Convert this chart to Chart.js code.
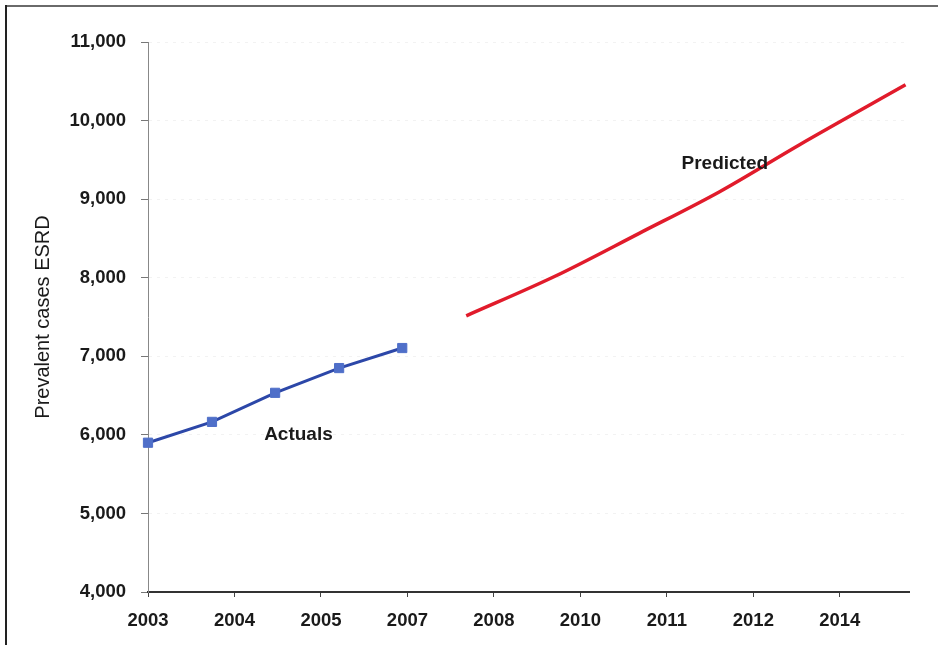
<!DOCTYPE html>
<html>
<head>
<meta charset="utf-8">
<script src="https://cdn.jsdelivr.net/npm/chart.js@4/dist/chart.umd.min.js"></script>
<style>
  html, body { margin: 0; padding: 0; background: #fff; }
  #wrap { width: 938px; height: 645px; position: relative; }
</style>
</head>
<body>
<div id="wrap"><canvas id="esrdChart"></canvas></div>
<script>
// x axis categories (positions 0..8 on a linear scale)
const yearLabels = ['2003', '2004', '2005', '2007', '2008', '2010', '2011', '2012', '2014'];

// observed prevalent cases
const actualX = [0, 0.74, 1.47, 2.21, 2.94];
const actualY = [5900, 6165, 6535, 6850, 7105];

// projected prevalent cases
const predictedX = [3.68, 4.70, 5.68, 6.61, 7.53, 8.76];
const predictedY = [7515, 8015, 8565, 9095, 9690, 10455];

const yTicks = [4000, 5000, 6000, 7000, 8000, 9000, 10000, 11000];

const toPoints = (xs, ys) => xs.map((x, i) => ({ x, y: ys[i] }));

// inline series names + outer frame lines
const decorations = {
    id: 'decorations',
    afterDatasetsDraw(chart) {
        const { ctx, scales: { x, y } } = chart;
        ctx.save();
        ctx.fillStyle = '#1a1a1a';
        ctx.font = 'bold 19px "Liberation Sans", Arial, sans-serif';
        ctx.textAlign = 'center';
        ctx.textBaseline = 'middle';
        ctx.fillText('Actuals', x.getPixelForValue(1.74), y.getPixelForValue(6000));
        ctx.fillText('Predicted', x.getPixelForValue(6.67), y.getPixelForValue(9450));
        ctx.restore();
    },
    afterDraw(chart) {
        const { ctx, width, height } = chart;
        ctx.save();
        ctx.lineWidth = 2;
        ctx.strokeStyle = '#6a6a6a';
        ctx.beginPath();
        ctx.moveTo(5, 6);
        ctx.lineTo(width, 6);
        ctx.stroke();
        ctx.strokeStyle = '#222';
        ctx.beginPath();
        ctx.moveTo(6, 5);
        ctx.lineTo(6, height);
        ctx.stroke();
        ctx.restore();
    }
};

new Chart(document.getElementById('esrdChart'), {
    type: 'line',
    data: {
        datasets: [
            {
                label: 'Actuals',
                data: toPoints(actualX, actualY),
                borderColor: '#2c47a8',
                borderWidth: 3,
                pointStyle: 'rect',
                pointRadius: 6.5,
                pointBackgroundColor: '#4f6fc9',
                pointBorderColor: '#4f6fc9',
                pointBorderWidth: 1,
                tension: 0,
                clip: false
            },
            {
                label: 'Predicted',
                data: toPoints(predictedX, predictedY),
                borderColor: '#e11b2b',
                borderWidth: 3.5,
                pointRadius: 0,
                cubicInterpolationMode: 'monotone',
                clip: false
            }
        ]
    },
    options: {
        responsive: true,
        maintainAspectRatio: false,
        animation: false,
        layout: { padding: { top: 42, right: 29, bottom: 0, left: 0 } },
        plugins: {
            legend: { display: false },
            tooltip: { enabled: false }
        },
        scales: {
            x: {
                type: 'linear',
                min: 0,
                max: 8.8,
                afterBuildTicks: (scale) => {
                    scale.ticks = yearLabels.map((_, i) => ({ value: i }));
                },
                afterFit: (scale) => { scale.height = 53; },
                ticks: {
                    callback: (v) => yearLabels[v],
                    color: '#1a1a1a',
                    font: { family: '"Liberation Sans", Arial, sans-serif', size: 18.5, weight: 'bold' },
                    padding: 13,
                    maxRotation: 0,
                    autoSkip: false
                },
                grid: {
                    drawOnChartArea: false,
                    tickLength: 5,
                    tickColor: '#444',
                    tickWidth: 1
                },
                border: { color: '#333', width: 2 }
            },
            y: {
                min: 4000,
                max: 11000,
                afterBuildTicks: (scale) => {
                    scale.ticks = yTicks.map(v => ({ value: v }));
                },
                afterFit: (scale) => { scale.width = 148; },
                ticks: {
                    callback: (v) => v.toLocaleString('en-US'),
                    color: '#1a1a1a',
                    font: { family: '"Liberation Sans", Arial, sans-serif', size: 18.5, weight: 'bold' },
                    padding: 15
                },
                grid: {
                    color: 'rgba(0,0,0,0.05)',
                    tickColor: '#777',
                    tickLength: 7,
                    tickWidth: 1
                },
                border: { color: '#888', width: 1, dash: [3, 5] },
                title: {
                    display: true,
                    text: 'Prevalent cases ESRD',
                    color: '#1a1a1a',
                    font: { family: '"Liberation Sans", Arial, sans-serif', size: 20 },
                    padding: { top: 31, bottom: 0 }
                }
            }
        }
    },
    plugins: [decorations]
});
</script>
</body>
</html>
